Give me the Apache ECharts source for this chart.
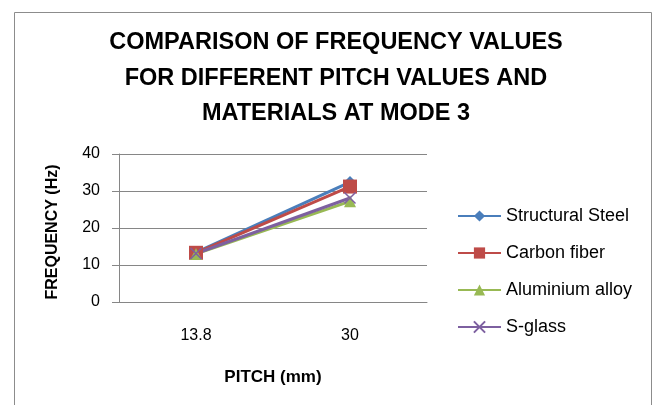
<!DOCTYPE html>
<html>
<head>
<meta charset="utf-8">
<script src="https://cdn.jsdelivr.net/npm/echarts@6/dist/echarts.min.js"></script>
<style>html,body{margin:0;padding:0;background:#fff}#c{width:662px;height:405px}</style>
</head>
<body>
<div id="c"></div>
<script>
var categories = ['13.8', '30'];
var seriesNames = ['Structural Steel', 'Carbon fiber', 'Aluminium alloy', 'S-glass'];
var structuralSteel = [13.4, 32.4];
var carbonFiber = [13.3, 31.2];
var aluminiumAlloy = [13.0, 27.2];
var sGlass = [13.1, 28.1];
var yTicks = [0, 10, 20, 30, 40];

var colors = ['#4A7EBB', '#BE4B48', '#98B954', '#7D60A0'];
var font = 'Liberation Sans, Arial, sans-serif';
var chart = echarts.init(document.getElementById('c'));
var values = [structuralSteel, carbonFiber, aluminiumAlloy, sGlass];
var symbols = ['diamond', 'rect', 'triangle', 'path://M0,0L10,10M10,0L0,10'];
var sizes = [12, 14, 12, 11];

chart.setOption({
  animation: false,
  color: colors,
  graphic: [
    {type: 'rect', shape: {x: 14.5, y: 12.5, width: 637, height: 420}, style: {fill: 'none', stroke: '#8c8c8c', lineWidth: 1}},
    {type: 'text', x: 336, y: 43, style: {text: 'COMPARISON OF FREQUENCY VALUES', font: 'bold 23.5px ' + font, fill: '#000', textAlign: 'center', textVerticalAlign: 'middle'}},
    {type: 'text', x: 336, y: 78.5, style: {text: 'FOR DIFFERENT PITCH VALUES AND', font: 'bold 23.5px ' + font, fill: '#000', textAlign: 'center', textVerticalAlign: 'middle'}},
    {type: 'text', x: 336, y: 114, style: {text: 'MATERIALS AT MODE 3', font: 'bold 23.5px ' + font, fill: '#000', textAlign: 'center', textVerticalAlign: 'middle'}},
    {type: 'text', x: 53, y: 232, rotation: Math.PI / 2, style: {text: 'FREQUENCY (Hz)', font: 'bold 16px ' + font, fill: '#000', textAlign: 'center', textVerticalAlign: 'middle'}},
    {type: 'text', x: 273, y: 377, style: {text: 'PITCH (mm)', font: 'bold 17px ' + font, fill: '#000', textAlign: 'center', textVerticalAlign: 'middle'}}
  ],
  grid: {left: 119, top: 154, width: 308, height: 148, containLabel: false},
  legend: {
    orient: 'vertical', left: 457, top: 207, padding: 0,
    itemWidth: 43, itemHeight: 14, itemGap: 19,
    textStyle: {fontFamily: font, fontSize: 18, lineHeight: 18, color: '#000'},
    data: seriesNames
  },
  xAxis: {
    type: 'category', data: categories, boundaryGap: true,
    axisLine: {lineStyle: {color: '#868686', width: 1}},
    axisTick: {show: false},
    axisLabel: {fontFamily: font, fontSize: 16, color: '#000', margin: 26}
  },
  yAxis: {
    type: 'value', min: 0, max: 40, interval: 10,
    axisLine: {show: true, lineStyle: {color: '#868686', width: 1}},
    axisTick: {show: true, inside: false, length: 7, lineStyle: {color: '#868686'}},
    splitLine: {lineStyle: {color: '#868686', width: 1}},
    axisLabel: {fontFamily: font, fontSize: 16, color: '#000', margin: 19,
      formatter: function (v) { return yTicks.indexOf(v) >= 0 ? String(v) : ''; }}
  },
  series: values.map(function (d, i) {
    return {
      name: seriesNames[i], type: 'line', data: d,
      symbol: symbols[i], symbolSize: sizes[i], showSymbol: true,
      lineStyle: {width: 3, color: colors[i]},
      itemStyle: i === 3 ? {color: colors[i], borderColor: colors[i], borderWidth: 1.5} : {color: colors[i]}
    };
  })
});
</script>
</body>
</html>
